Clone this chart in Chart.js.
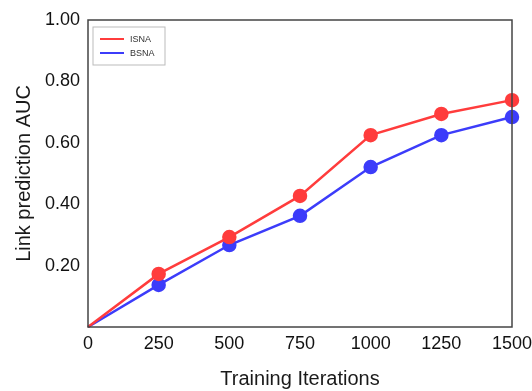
<!DOCTYPE html>
<html>
<head>
<meta charset="utf-8">
<script src="https://cdn.jsdelivr.net/npm/chart.js@4"></script>
<style>
  html, body { margin: 0; padding: 0; background: #fff; }
  #wrap { width: 532px; height: 391px; }
</style>
</head>
<body>
<div id="wrap"><canvas id="auc-canvas" width="532" height="391"></canvas></div>
<script>
// training iterations and AUC
const iterations = [0, 250, 500, 750, 1000, 1250, 1500];
const isnaAuc = [0, 0.173, 0.293, 0.427, 0.625, 0.694, 0.739];
const bsnaAuc = [0, 0.137, 0.267, 0.362, 0.521, 0.625, 0.684];
const seriesNames = ['ISNA', 'BSNA'];
const yTicks = [0.2, 0.4, 0.6, 0.8, 1.0];

const red = 'rgb(255, 60, 60)';
const blue = 'rgb(60, 60, 250)';
const fontFamily = '"Liberation Sans", Arial, sans-serif';

function toPoints(values) {
  return iterations.map((x, i) => ({ x: x, y: values[i] }));
}

// box around the plot + legend inside top left
const framePlugin = {
  id: 'frame',
  afterDraw(chart) {
    const ctx = chart.ctx;
    const a = chart.chartArea;
    ctx.save();
    ctx.strokeStyle = '#444';
    ctx.lineWidth = 1.5;
    ctx.strokeRect(a.left, a.top, a.right - a.left, a.bottom - a.top);

    // legend
    const lx = a.left + 5, ly = a.top + 7;
    ctx.fillStyle = '#fff';
    ctx.fillRect(lx, ly, 72, 38);
    ctx.strokeStyle = '#bbb';
    ctx.lineWidth = 1;
    ctx.strokeRect(lx, ly, 72, 38);
    ctx.font = '9px ' + fontFamily;
    ctx.textBaseline = 'middle';
    chart.data.datasets.forEach((ds, i) => {
      const yy = ly + 12 + i * 14;
      ctx.strokeStyle = ds.borderColor;
      ctx.lineWidth = 2;
      ctx.beginPath();
      ctx.moveTo(lx + 7, yy);
      ctx.lineTo(lx + 31, yy);
      ctx.stroke();
      ctx.fillStyle = '#333';
      ctx.fillText(ds.label, lx + 37, yy + 1);
    });
    ctx.restore();
  }
};

const ctx = document.getElementById('auc-canvas').getContext('2d');
const aucChart = new Chart(ctx, {
  type: 'line',
  data: {
    datasets: [
      {
        label: seriesNames[0],
        data: toPoints(isnaAuc),
        borderColor: red,
        backgroundColor: red,
        borderWidth: 2.5,
        pointRadius: iterations.map(x => x === 0 ? 0 : 6),
        pointHoverRadius: 6,
        clip: false,
      },
      {
        label: seriesNames[1],
        data: toPoints(bsnaAuc),
        borderColor: blue,
        backgroundColor: blue,
        borderWidth: 2.5,
        pointRadius: iterations.map(x => x === 0 ? 0 : 6),
        pointHoverRadius: 6,
        clip: false,
      },
    ],
  },
  options: {
    responsive: false,
    animation: false,
    layout: { padding: { top: 20, right: 0, left: 0, bottom: 0 } },
    scales: {
      x: {
        type: 'linear',
        min: 0,
        max: 1500,
        afterBuildTicks: (scale) => { scale.ticks = iterations.map(v => ({ value: v })) },
        afterFit: (scale) => { scale.height = 64; scale.paddingRight = 20 },
        grid: { display: false, drawTicks: false },
        border: { display: false },
        ticks: {
          color: '#111',
          padding: 6,
          maxRotation: 0,
          font: { family: fontFamily, size: 18 },
          callback: (v) => String(v),
        },
        title: {
          display: true,
          text: 'Training Iterations',
          color: '#1a1a1a',
          font: { family: fontFamily, size: 20 },
          padding: { top: 0, bottom: 0 },
        },
      },
      y: {
        min: 0,
        max: 1,
        afterBuildTicks: (scale) => { scale.ticks = yTicks.map(v => ({ value: v })) },
        afterFit: (scale) => { scale.width = 88 },
        grid: { display: false, drawTicks: false },
        border: { display: false },
        ticks: {
          color: '#111',
          padding: 8,
          font: { family: fontFamily, size: 18 },
          callback: (v) => Number(v).toFixed(2),
        },
        title: {
          display: true,
          text: 'Link prediction AUC',
          color: '#1a1a1a',
          font: { family: fontFamily, size: 20 },
          padding: { top: 12, bottom: 0 },
        },
      },
    },
    plugins: {
      legend: { display: false },
      tooltip: { enabled: false },
    },
  },
  plugins: [framePlugin],
});
</script>
</body>
</html>
